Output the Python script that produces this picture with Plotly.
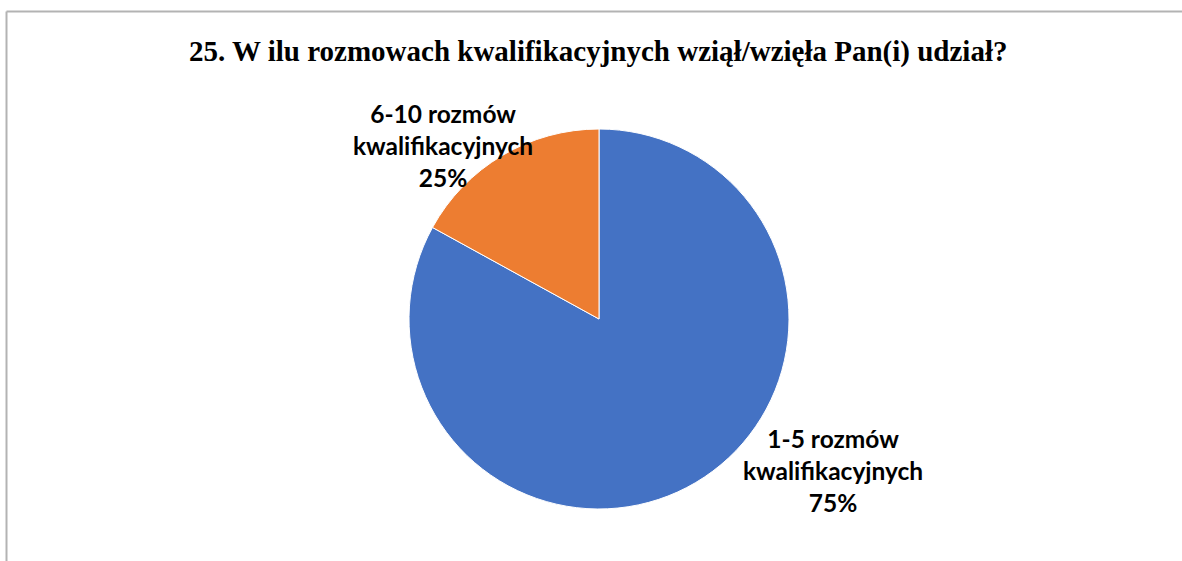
import plotly.graph_objects as go

W, H = 1182, 561

categories = ["1-5 rozmów<br>kwalifikacyjnych", "6-10 rozmów<br>kwalifikacyjnych"]
values = [83, 17]          # slice sizes as drawn
label_pcts = ["75%", "25%"]  # percentages printed on the labels
colors = ["#4472C4", "#ED7D31"]
title = "25. W ilu rozmowach kwalifikacyjnych wziął/wzięła Pan(i) udział?"


def px_x(x):
    return x / W


def px_y(y):
    return 1 - y / H


fig = go.Figure()
fig.add_trace(go.Pie(
    labels=categories,
    values=values,
    sort=False,
    direction="clockwise",
    rotation=0,
    marker=dict(colors=colors, line=dict(color="white", width=1)),
    textinfo="none",
    hoverinfo="label+value",
    showlegend=False,
    domain=dict(x=[px_x(409), px_x(789)], y=[px_y(509), px_y(129)]),
))

label_pos = [(833, 470), (443, 145)]
for cat, pct, (px, py) in zip(categories, label_pcts, label_pos):
    fig.add_annotation(
        x=px_x(px), y=px_y(py), xref="paper", yref="paper",
        text=f"<b>{cat}<br>{pct}</b>", showarrow=False,
        font=dict(family="Lato, Open Sans, sans-serif", size=24.5, color="#000000"),
        align="center", xanchor="center", yanchor="middle",
    )

fig.add_annotation(
    x=px_x(598), y=px_y(51), xref="paper", yref="paper",
    text=f"<b>{title}</b>", showarrow=False,
    font=dict(family="Liberation Serif, Times New Roman, serif", size=29, color="#000000"),
    xanchor="center", yanchor="middle",
)

# chart frame (partially visible border)
fig.add_shape(type="line", xref="paper", yref="paper",
              x0=px_x(6.5), y0=0, x1=px_x(6.5), y1=px_y(11.5),
              line=dict(color="#b3b3b3", width=2))
fig.add_shape(type="line", xref="paper", yref="paper",
              x0=px_x(6.5), y0=px_y(11.5), x1=1, y1=px_y(11.5),
              line=dict(color="#b3b3b3", width=2))

fig.update_layout(
    width=W, height=H,
    margin=dict(l=0, r=0, t=0, b=0),
    paper_bgcolor="white", plot_bgcolor="white",
)

fig.write_html("out.html",
               config={"displayModeBar": False},
               post_script="document.body.style.margin='0';document.body.style.padding='0';")
